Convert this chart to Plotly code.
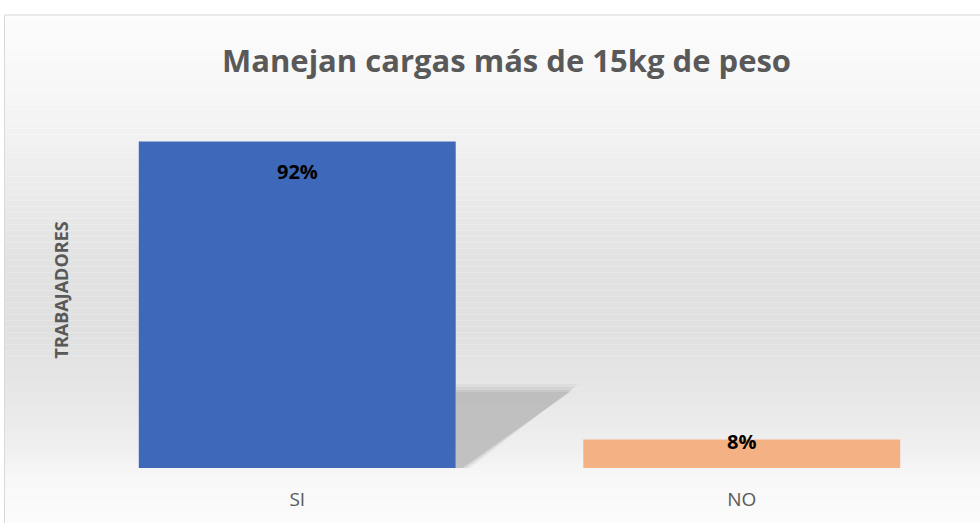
import plotly.graph_objects as go

categories = ["SI", "NO"]
values = [92, 8]
value_labels = ["92%", "8%"]
bar_colors = ["#3E69BA", "#F4B183"]
label_shift = [-30, -2]

title_text = "Manejan cargas más de 15kg de peso"
y_title = "TRABAJADORES"

W, H = 980, 523
FONT = "Open Sans"

fig = go.Figure()
fig.add_trace(go.Bar(
    x=categories, y=values, marker=dict(color=bar_colors, line=dict(width=0)),
    hoverinfo="skip", showlegend=False,
))

shapes = []
stops = [(14, 252), (100, 246), (180, 236), (260, 226), (330, 224), (400, 232), (450, 240), (480, 248), (523, 251)]
def shade(py):
    for (y0, c0), (y1, c1) in zip(stops, stops[1:]):
        if y0 <= py <= y1:
            t = (py - y0) / (y1 - y0)
            return round(c0 + (c1 - c0) * t)
    return 250

def px(x):
    return (x - 75) / 889
def pyv(y):
    return (468 - y) / 355.4

step = 6
py = 14
while py < H:
    c = shade(py + step / 2)
    shapes.append(dict(type="rect", xref="paper", yref="paper", layer="below",
                       x0=px(4), x1=px(990),
                       y0=pyv(py + step), y1=pyv(py),
                       fillcolor=f"rgb({c},{c},{c})", line=dict(width=0)))
    py += step

# soft shadow behind first bar
for op, d in [(0.15, 8), (0.2, 5), (0.3, 2), (0.4, 0)]:
    path = (f"M {px(456)},{pyv(392 - d)} L {px(570 + d)},{pyv(392 - d)} "
            f"L {px(462 + d)},{pyv(468)} L {px(456)},{pyv(468)} Z")
    shapes.append(dict(type="path", xref="paper", yref="paper", layer="below",
                       path=path, fillcolor="rgb(175,175,175)", opacity=op, line=dict(width=0)))

# chart border
shapes.append(dict(type="rect", xref="paper", yref="paper", layer="above",
                   x0=px(4.5), x1=px(990), y0=pyv(14.5), y1=pyv(540),
                   line=dict(color="#D9D9D9", width=1), fillcolor="rgba(0,0,0,0)"))

annotations = []
for c, v, t, s in zip(categories, values, value_labels, label_shift):
    annotations.append(dict(x=c, y=v, text=f"<b>{t}</b>", showarrow=False, yshift=s,
                            yanchor="middle", font=dict(family=FONT, size=20, color="#000000")))
annotations.append(dict(xref="paper", yref="paper", x=px(60), y=0.5, text=f"<b>{y_title}</b>",
                        textangle=-90, showarrow=False, xanchor="center", yanchor="middle",
                        font=dict(family=FONT, size=18, color="#595959")))
annotations.append(dict(xref="paper", yref="paper", x=px(506), y=pyv(60), text=f"<b>{title_text}</b>",
                        showarrow=False, xanchor="center", yanchor="middle",
                        font=dict(family=FONT, size=31, color="#595959")))

fig.update_layout(
    width=W, height=H,
    margin=dict(l=75, r=16, t=113, b=55),
    paper_bgcolor="white", plot_bgcolor="rgba(0,0,0,0)",
    bargap=0.287,
    shapes=shapes, annotations=annotations,
    xaxis=dict(showgrid=False, zeroline=False, showline=False, ticks="",
               tickfont=dict(family=FONT, size=19, color="#595959"), ticklabelstandoff=18),
    yaxis=dict(range=[0, 100], visible=False),
)

fig.write_html("out.html", config={"displayModeBar": False},
               post_script="document.body.style.margin='0';document.body.style.overflow='hidden';")
